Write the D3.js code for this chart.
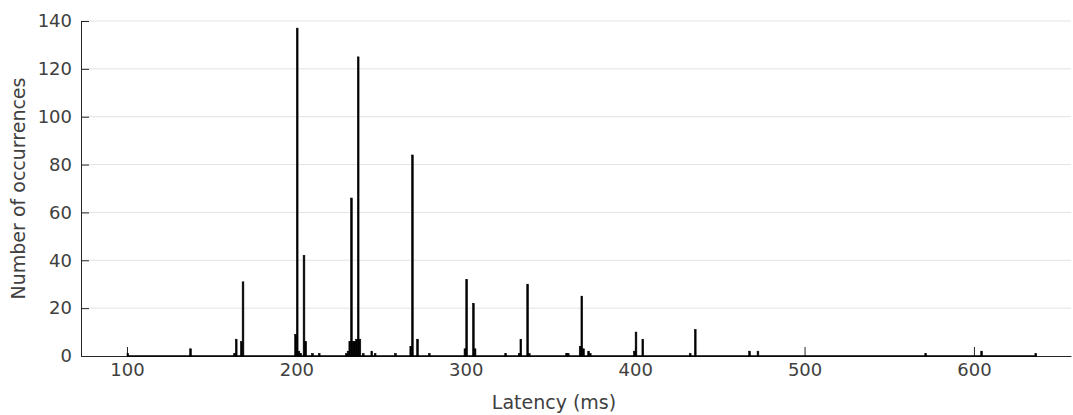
<!DOCTYPE html>
<html>
<head>
<meta charset="utf-8">
<script src="https://cdn.jsdelivr.net/npm/d3@7/dist/d3.min.js"></script>
<style>
  html, body { margin: 0; padding: 0; background: #fff; }
  svg { display: block; font-family: "DejaVu Sans", sans-serif; }
</style>
</head>
<body>
<svg id="chart" width="1073" height="415"></svg>
<script>
// Latency histogram, 1 ms bins. Only non-empty bins are listed.
const binLatencies = [100, 137, 163, 164, 167, 168, 199, 200, 201, 202, 204, 205, 209, 213,
  229, 230, 231, 232, 233, 234, 235, 236, 237, 239, 244, 246, 258, 267, 268, 271, 278,
  299, 300, 304, 305, 323, 331, 332, 336, 337, 359, 360, 367, 368, 369, 372, 373,
  399, 400, 404, 432, 435, 467, 472, 571, 604, 636];
const binCounts = [1, 3, 1, 7, 6, 31, 9, 137, 2, 1, 42, 6, 1, 1,
  1, 2, 6, 66, 6, 6, 7, 125, 7, 1, 2, 1, 1, 4, 84, 7, 1,
  3, 32, 22, 3, 1, 1, 7, 30, 1, 1, 1, 4, 25, 3, 2, 1,
  2, 10, 7, 1, 11, 2, 2, 1, 2, 1];
const binWidth = 1;
const histRange = [100, 637];          // first and last bin edges
const xDomain = [72.85, 657.3];
const yDomain = [0, 140];
const xTicks = [100, 200, 300, 400, 500, 600];
const yTicks = [0, 20, 40, 60, 80, 100, 120, 140];
const xLabel = "Latency (ms)";
const yLabel = "Number of occurrences";

const margin = { left: 81, right: 2, top: 21, bottom: 59 };
const W = 1073, H = 415;
const axisColor = "#262626";
const textColor = "#404040";

const svg = d3.select("#chart");
const x = d3.scaleLinear().domain(xDomain).range([margin.left, W - margin.right]);
const y = d3.scaleLinear().domain(yDomain).range([H - margin.bottom, margin.top]);

// horizontal grid
svg.append("g")
  .selectAll("line")
  .data(yTicks.filter(d => d > 0))
  .join("line")
  .attr("x1", x.range()[0]).attr("x2", x.range()[1])
  .attr("y1", d => y(d)).attr("y2", d => y(d))
  .attr("stroke", "#e3e3e3").attr("stroke-width", 1);

// axes with inward ticks
const xAxis = svg.append("g")
  .attr("transform", `translate(0,${y(0)})`)
  .call(d3.axisBottom(x).tickValues(xTicks).tickSizeInner(-9).tickSizeOuter(0).tickPadding(7));
const yAxis = svg.append("g")
  .attr("transform", `translate(${x.range()[0]},0)`)
  .call(d3.axisLeft(y).tickValues(yTicks).tickSizeInner(-8).tickSizeOuter(0).tickPadding(9));

[xAxis, yAxis].forEach(g => {
  g.select(".domain").attr("stroke", axisColor).attr("stroke-width", 1);
  g.selectAll(".tick line").attr("stroke", axisColor).attr("stroke-width", 1);
  g.selectAll(".tick text").attr("fill", textColor).attr("font-size", 18)
    .attr("font-family", "DejaVu Sans, sans-serif");
});

// histogram baseline across the binned range
svg.append("line")
  .attr("x1", x(histRange[0])).attr("x2", x(histRange[1]))
  .attr("y1", y(0)).attr("y2", y(0))
  .attr("stroke", "#000").attr("stroke-width", 1.6);

// bars
svg.append("g")
  .selectAll("rect")
  .data(binLatencies.map((b, i) => ({ b, c: binCounts[i] })))
  .join("rect")
  .attr("x", d => x(d.b))
  .attr("width", d => x(d.b + binWidth) - x(d.b))
  .attr("y", d => y(d.c))
  .attr("height", d => y(0) - y(d.c))
  .attr("fill", "#000")
  .attr("stroke", "#000")
  .attr("stroke-width", 0.6);

// axis titles
svg.append("text")
  .attr("x", 554)
  .attr("y", 409)
  .attr("text-anchor", "middle")
  .attr("fill", textColor)
  .attr("font-size", 19)
  .text(xLabel);

svg.append("text")
  .attr("transform", `translate(25,${(y.range()[0] + y.range()[1]) / 2}) rotate(-90)`)
  .attr("text-anchor", "middle")
  .attr("fill", textColor)
  .attr("font-size", 19)
  .text(yLabel);
</script>
</body>
</html>
